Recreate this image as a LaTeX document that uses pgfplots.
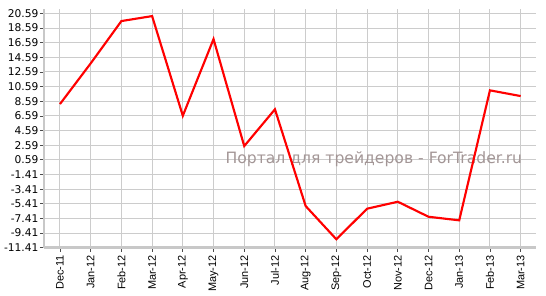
\documentclass[border=0pt]{standalone}
\usepackage{pgfplots}
\pgfplotsset{compat=1.18}
\usepackage{fontspec}
\setmainfont{DejaVu Sans}
\newfontfamily\xfont{Liberation Sans}
\definecolor{gridc}{HTML}{CCCCCC}
\definecolor{axc}{HTML}{C8C8C8}
\definecolor{wm}{HTML}{A39696}
\begin{document}
\begin{tikzpicture}
\path[use as bounding box] (0pt,0pt) rectangle (409.5pt,222pt);
\begin{axis}[
  at={(33pt,36.2pt)}, anchor=south west,
  scale only axis,
  width=369pt, height=179pt,
  xmin=-0.52, xmax=15.5,
  ymin=-11.41, ymax=21.18,
  xtick={0,...,15},
  xticklabels={Dec-11,Jan-12,Feb-12,Mar-12,Apr-12,May-12,Jun-12,Jul-12,Aug-12,Sep-12,Oct-12,Nov-12,Dec-12,Jan-13,Feb-13,Mar-13},
  ytick={-11.41,-9.41,...,20.6},
  yticklabel={\pgfmathprintnumber[fixed,precision=2,fixed zerofill]{\tick}},
  /pgf/number format/assume math mode=true,
  xticklabel style={rotate=90, anchor=east, font=\xfont\fontsize{8.2}{9}\selectfont, inner sep=1pt, xshift=-1.5pt},
  yticklabel style={font=\fontsize{8.0}{10}\selectfont, inner sep=1pt},
  axis x line*=bottom, axis y line*=left,
  axis line style={axc, line width=2.2pt, -},
  tick style={black!70, line width=0.6pt},
  tick align=outside,
  major tick length=3pt,
  xmajorgrids, ymajorgrids,
  grid style={gridc, line width=0.75pt},
  clip=false,
]
\node[wm, font=\fontsize{11.7}{14}\selectfont, anchor=base east] at (axis cs:15.2,0.05) {Портал для трейдеров - ForTrader.ru};
\addplot[red, line width=1.6pt, line join=miter] coordinates {
(0,8.21) (1,13.76) (2,19.54) (3,20.22) (4,6.61) (5,17.08) (6,2.47) (7,7.49)
(8,-5.72) (9,-10.26) (10,-6.08) (11,-5.13) (12,-7.18) (13,-7.67) (14,10.08) (15,9.30)
};
\end{axis}
\end{tikzpicture}
\end{document}
